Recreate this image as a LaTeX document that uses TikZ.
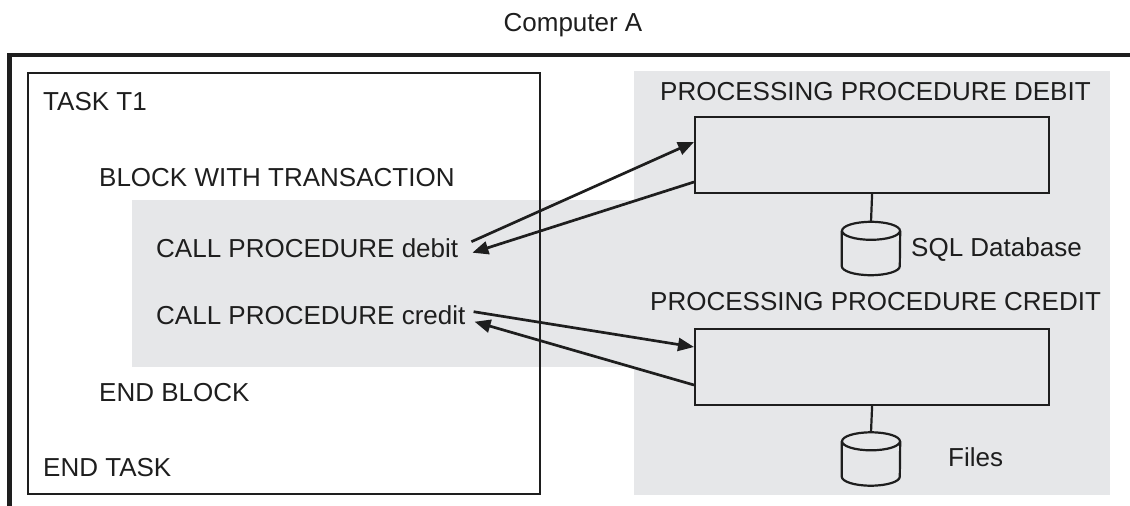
\documentclass[tikz,border=0pt]{standalone}
\usepackage{fontspec}
\setmainfont{Liberation Sans}
\usetikzlibrary{arrows.meta,calc}
\definecolor{panelgray}{RGB}{230,231,233}
\definecolor{ink}{RGB}{30,30,30}
\tikzset{
  lbl/.style={inner sep=0pt, anchor=base west, text=ink, font=\fontsize{26}{30}\selectfont},
  procbox/.style={draw=ink, line width=2.2pt, inner sep=0pt, minimum width=354pt, minimum height=76pt, anchor=north west},
  taskbox/.style={draw=ink, line width=2.2pt, inner sep=0pt, minimum width=512pt, minimum height=421pt, anchor=north west},
  dbslot/.style={inner sep=0pt, minimum width=58pt, minimum height=53pt},
  call/.style={draw=ink, line width=2.7pt, -{Triangle[length=16pt,width=13pt]}},
  link/.style={draw=ink, line width=2.2pt},
}
\begin{document}
\begin{tikzpicture}[x=1pt,y=-1pt]
\useasboundingbox (0,0) rectangle (1130,506);
% gray panels
\fill[panelgray] (132,200) rectangle (635,367);
\fill[panelgray] (634,71) rectangle (1110,495);
% outer frame
\draw[ink, line width=4.5pt, line join=miter] (9.5,510) -- (9.5,55) -- (1135,55);
% title
\node[lbl, anchor=base] (title) at (573,31) {Computer A};
% task box
\node[taskbox] (task) at (27,72) {};
\node[lbl] (t1) at (43,110) {TASK T1};
\node[lbl] (blk) at (99,186) {BLOCK WITH TRANSACTION};
\node[lbl] (cdeb) at (156,257) {CALL PROCEDURE debit};
\node[lbl] (ccre) at (156,324) {CALL PROCEDURE credit};
\node[lbl] (eblk) at (99,401) {END BLOCK};
\node[lbl] (etask) at (43,476) {END TASK};
% processing procedures
\node[lbl] (ppd) at (660,100) {PROCESSING PROCEDURE DEBIT};
\node[procbox] (pd) at (694,116) {};
\node[lbl] (ppc) at (650,310) {PROCESSING PROCEDURE CREDIT};
\node[procbox] (pc) at (694,328) {};
% databases
\node[dbslot] (sql) at (871,248.5) {};
\node[dbslot] (files) at (871,459) {};
\foreach \n in {sql,files}{
  \draw[ink, line width=2.2pt] ($(\n.north west)+(0,9)$) -- ($(\n.south west)+(0,-9)$) arc (180:0:29 and 9) -- ($(\n.north east)+(0,9)$);
  \draw[ink, line width=2.2pt] ($(\n.north)+(0,9)$) ellipse [x radius=29, y radius=9];
}
\node[lbl] (sqll) at (911,256) {SQL Database};
\node[lbl] (filesl) at (948,466) {Files};
\draw[link] (pd.south) -- (sql.north);
\draw[link] (pc.south) -- (files.north);
% calls
\draw[call] ($(cdeb.east)+(13,-6)$) -- ($(pd.north west)+(0,26)$);
\draw[call] ($(pd.north west)+(0,66)$) -- ($(cdeb.east)+(14,5)$);
\draw[call] ($(ccre.east)+(8,-3)$) -- ($(pc.north west)+(0,19)$);
\draw[call] ($(pc.north west)+(0,57)$) -- ($(ccre.east)+(9,7)$);
\end{tikzpicture}
\end{document}
